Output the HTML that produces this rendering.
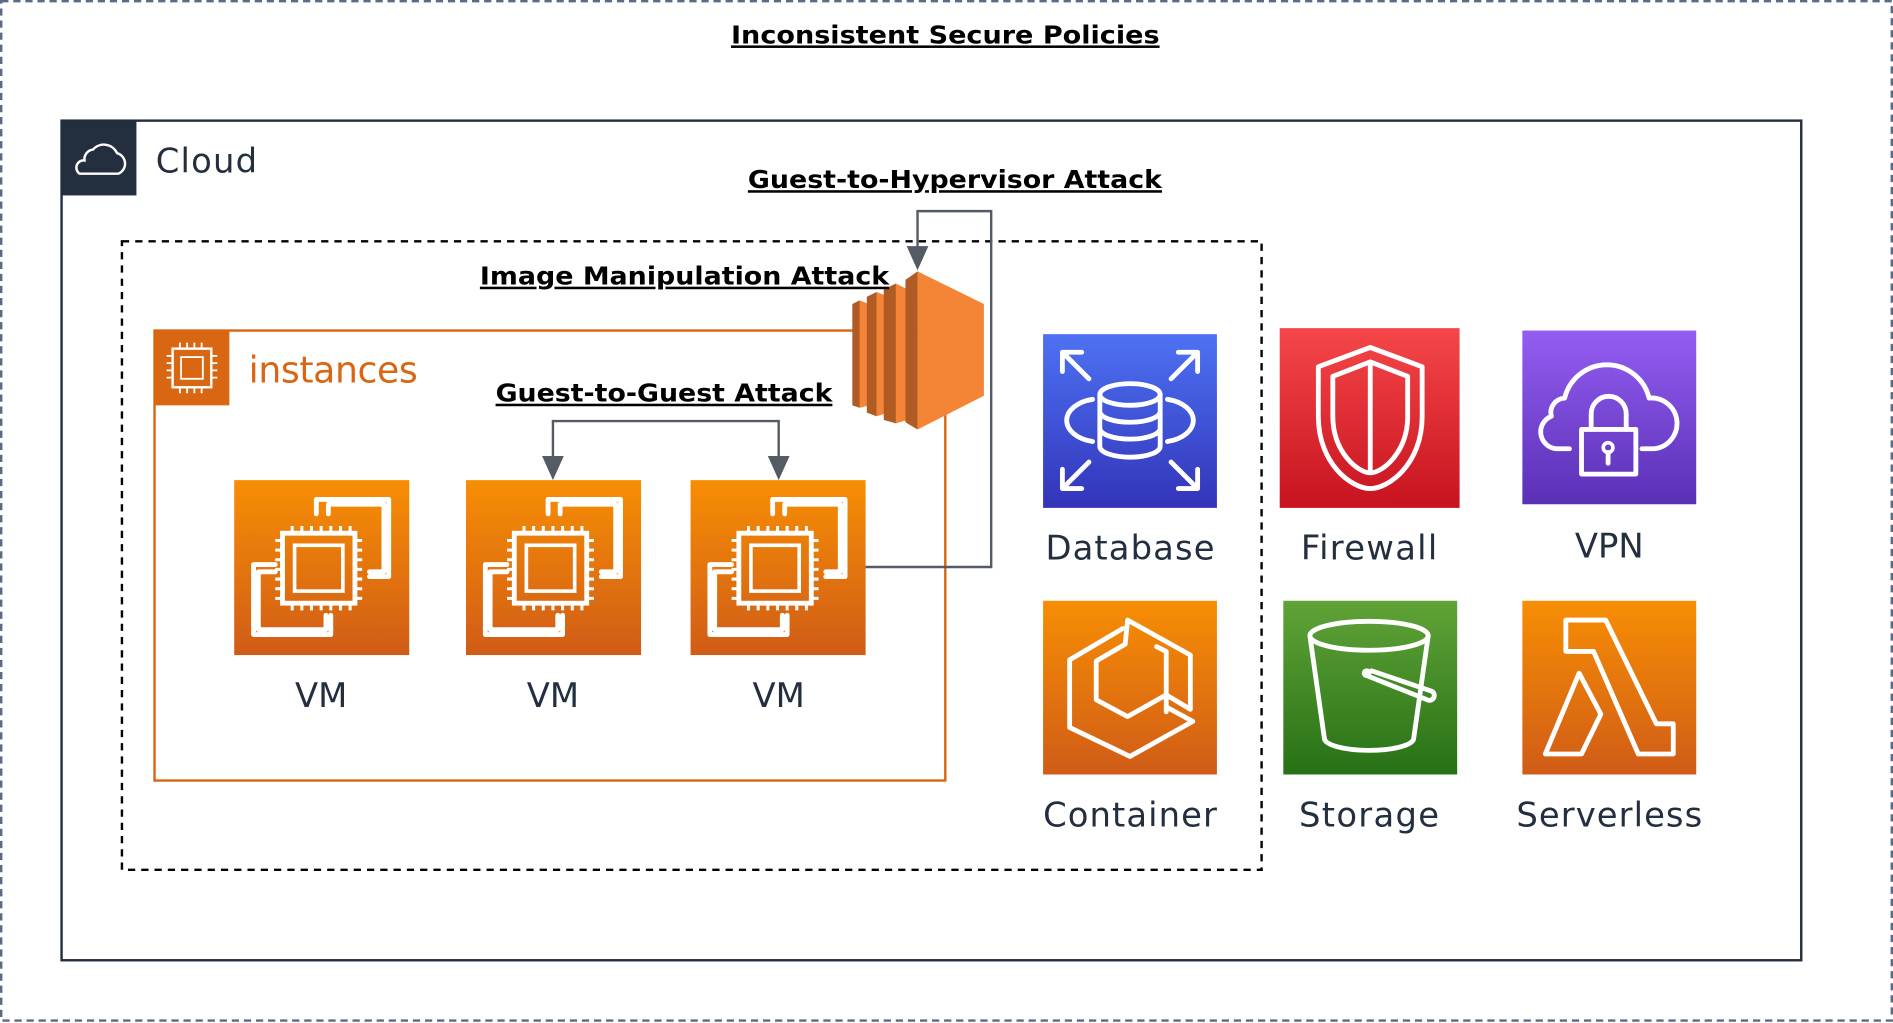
<!DOCTYPE html>
<html><head><meta charset="utf-8"><style>
html,body{margin:0;padding:0;background:#fff;width:1893px;height:1023px;overflow:hidden}
svg{display:block}
text{font-family:"DejaVu Sans","Liberation Sans",sans-serif}
.b{font-weight:bold;font-size:21px;text-anchor:middle;text-decoration:underline;fill:#000}
.lbl{font-size:28px;fill:#232f3e;text-anchor:middle}
.w{fill:none;stroke:#fff;stroke-width:4;stroke-linejoin:round;stroke-linecap:round}
</style></head><body>
<svg width="1893" height="1023" viewBox="0 0 1568 848" preserveAspectRatio="none">
<defs>
<linearGradient id="og" x1="0" y1="0" x2="0" y2="1"><stop offset="0" stop-color="#f78e04"/><stop offset="1" stop-color="#d05c17"/></linearGradient>
<linearGradient id="bg" x1="0" y1="0" x2="0" y2="1"><stop offset="0" stop-color="#4d72f3"/><stop offset="1" stop-color="#3334b9"/></linearGradient>
<linearGradient id="rg" x1="0" y1="0" x2="0" y2="1"><stop offset="0" stop-color="#f54749"/><stop offset="1" stop-color="#c7131f"/></linearGradient>
<linearGradient id="pg" x1="0" y1="0" x2="0" y2="1"><stop offset="0" stop-color="#945df2"/><stop offset="1" stop-color="#5a30b5"/></linearGradient>
<linearGradient id="gg" x1="0" y1="0" x2="0" y2="1"><stop offset="0" stop-color="#60a337"/><stop offset="1" stop-color="#277116"/></linearGradient>
<g id="chip">
<rect width="145" height="145" fill="url(#og)"/>
<path class="w" d="M68 28 V16 H128 V80 H112 M78 28 V20 H124 V76 H112"/>
<path class="w" d="M34 70 H16 V128 H80 V112 M34 76 H20 V124 H76 V112"/>
<rect x="40" y="44" width="60" height="58" fill="none" stroke="#fff" stroke-width="4"/>
<rect x="50" y="54" width="40" height="38" fill="none" stroke="#fff" stroke-width="3"/>
<path stroke="#fff" stroke-width="2.5" d="M48 38v6M56 38v6M64 38v6M72 38v6M80 38v6M88 38v6M96 38v6M48 102v6M56 102v6M64 102v6M72 102v6M80 102v6M88 102v6M96 102v6M34 50h6M34 58h6M34 66h6M34 74h6M34 82h6M34 90h6M34 98h6M100 50h6M100 58h6M100 66h6M100 74h6M100 82h6M100 90h6M100 98h6"/>
</g>
</defs>
<rect x="1" y="1" width="1566" height="845" fill="none" stroke="#5a6b86" stroke-width="2" stroke-dasharray="6 4"/>
<text x="783" y="36" class="b" textLength="355" lengthAdjust="spacingAndGlyphs">Inconsistent Secure Policies</text>
<rect x="51" y="100" width="1441" height="696" fill="none" stroke="#232f3e" stroke-width="2"/>
<rect x="51" y="100" width="62" height="62" fill="#232f3e"/>
<path d="M66 144 H98 A9 9 0 0 0 97 127 A12 12 0 0 0 77 124 A8 8 0 0 0 70 133 A6 6 0 0 0 66 144 Z" fill="none" stroke="#fff" stroke-width="2"/>
<text x="129" y="143" font-size="28" fill="#232f3e" textLength="84">Cloud</text>
<rect x="101" y="200" width="944" height="521" fill="none" stroke="#000" stroke-width="2" stroke-dasharray="6 5"/>
<rect x="128" y="274" width="655" height="373" fill="none" stroke="#d86613" stroke-width="2"/>
<rect x="128" y="274" width="62" height="62" fill="#d86613"/>
<rect x="143" y="289" width="32" height="32" fill="none" stroke="#fff" stroke-width="2"/>
<rect x="150" y="296" width="18" height="18" fill="none" stroke="#fff" stroke-width="1.5"/>
<path stroke="#fff" stroke-width="1.5" d="M149 284v5M155 284v5M161 284v5M167 284v5M149 321v5M155 321v5M161 321v5M167 321v5M138 295h5M138 301h5M138 307h5M138 313h5M175 295h5M175 301h5M175 307h5M175 313h5"/>
<text x="206" y="317" font-size="30" fill="#d86613" textLength="140">instances</text>
<use href="#chip" x="194" y="398"/>
<use href="#chip" x="386" y="398"/>
<use href="#chip" x="572" y="398"/>
<text x="266" y="586" class="lbl">VM</text>
<text x="458" y="586" class="lbl">VM</text>
<text x="645" y="586" class="lbl">VM</text>
<text x="550" y="333" class="b" textLength="279" lengthAdjust="spacingAndGlyphs">Guest-to-Guest Attack</text>
<path d="M458 380 V349 H645 V380" fill="none" stroke="#545b64" stroke-width="2"/>
<path d="M449 378 L467 378 L458 398Z M636 378 L654 378 L645 398Z" fill="#545b64"/>
<path d="M717 470 H821 V175 H760 V205" fill="none" stroke="#545b64" stroke-width="2"/>
<path d="M751 204 L769 204 L760 224Z" fill="#545b64"/>
<polygon points="706,252 712,249 718,252 718,336 712,338 706,336" fill="#b05b24"/>
<polygon points="712,249 720,252 720,336 712,338" fill="#f58536"/>
<polygon points="718,246 726,242 732,246 732,342 726,345 718,342" fill="#b05b24"/>
<polygon points="726,242 736,246 736,342 726,345" fill="#f58536"/>
<polygon points="732,240 742,235 748,240 748,348 742,351 732,348" fill="#b05b24"/>
<polygon points="742,235 752,240 752,348 742,351" fill="#f58536"/>
<polygon points="750,232 760,225 760,356 750,350" fill="#b05b24"/>
<polygon points="760,225 815,252 815,328 760,356" fill="#f58536"/>
<text x="791" y="156" class="b" textLength="343" lengthAdjust="spacingAndGlyphs">Guest-to-Hypervisor Attack</text>
<text x="567" y="236" class="b" textLength="339" lengthAdjust="spacingAndGlyphs">Image Manipulation Attack</text>
<rect x="864" y="277" width="144" height="144" fill="url(#bg)"/>
<g class="w" stroke-width="3.5">
<ellipse cx="936" cy="327" rx="25" ry="9"/>
<path d="M911 327 V370 A25 9 0 0 0 961 370 V327 M911 341 A25 9 0 0 0 961 341 M911 355 A25 9 0 0 0 961 355"/>
<path d="M905 331 A28 18 0 0 0 905 366 M967 331 A28 18 0 0 1 967 366"/>
<path d="M880 292 L902 314 M880 292 H896 M880 292 V308 M992 292 L970 314 M992 292 H976 M992 292 V308 M880 405 L902 383 M880 405 H896 M880 405 V389 M992 405 L970 383 M992 405 H976 M992 405 V389"/>
</g>
<text x="936" y="464" class="lbl" textLength="140">Database</text>
<rect x="1060" y="272" width="149" height="149" fill="url(#rg)"/>
<path class="w" d="M1135 288 L1178 304 V345 C1178 385 1150 405 1135 405 C1120 405 1092 385 1092 345 V304 Z M1135 300 L1166 312 V345 C1166 375 1145 392 1135 392 C1125 392 1104 375 1104 345 V312 Z M1135 300 V392"/>
<text x="1134" y="464" class="lbl" textLength="113">Firewall</text>
<rect x="1261" y="274" width="144" height="144" fill="url(#pg)"/>
<path class="w" d="M1300 372 H1290 A14 14 0 0 1 1285 345 A12 12 0 0 1 1296 330 A36 36 0 0 1 1366 330 A18 18 0 0 1 1370 372 H1360"/>
<rect class="w" x="1310" y="356" width="45" height="37"/>
<path class="w" d="M1318 356 V343 A14 14 0 0 1 1347 343 V356"/>
<circle cx="1332" cy="371" r="4" fill="none" stroke="#fff" stroke-width="3"/>
<path class="w" d="M1332 375 V384"/>
<text x="1333" y="462" class="lbl">VPN</text>
<rect x="864" y="498" width="144" height="144" fill="url(#og)"/>
<path class="w" d="M934 514 L986 543 V588 L966 576 L934 594 L908 580 V548 L932 534 Z M886 547 L930 521 M886 547 V603 L936 627 L988 598 L966 586 M958 536 L966 540 V590"/>
<text x="936" y="685" class="lbl" textLength="144">Container</text>
<rect x="1063" y="498" width="144" height="144" fill="url(#gg)"/>
<ellipse class="w" cx="1134" cy="527" rx="49" ry="12"/>
<path class="w" d="M1085 527 L1097 612 A37 10 0 0 0 1171 612 L1183 527"/>
<path class="w" d="M1132 560 L1182 580 A4 4 0 0 0 1186 573 L1136 556"/>
<circle cx="1132" cy="558" r="4" fill="#fff"/>
<text x="1134" y="685" class="lbl" textLength="116">Storage</text>
<rect x="1261" y="498" width="144" height="144" fill="url(#og)"/>
<path class="w" d="M1297 514 H1330 L1372 600 H1386 V625 H1357 L1320 540 H1297 Z M1308 558 L1280 625 H1310 L1326 592 Z"/>
<text x="1333" y="685" class="lbl" textLength="154">Serverless</text>
</svg>
</body></html>
